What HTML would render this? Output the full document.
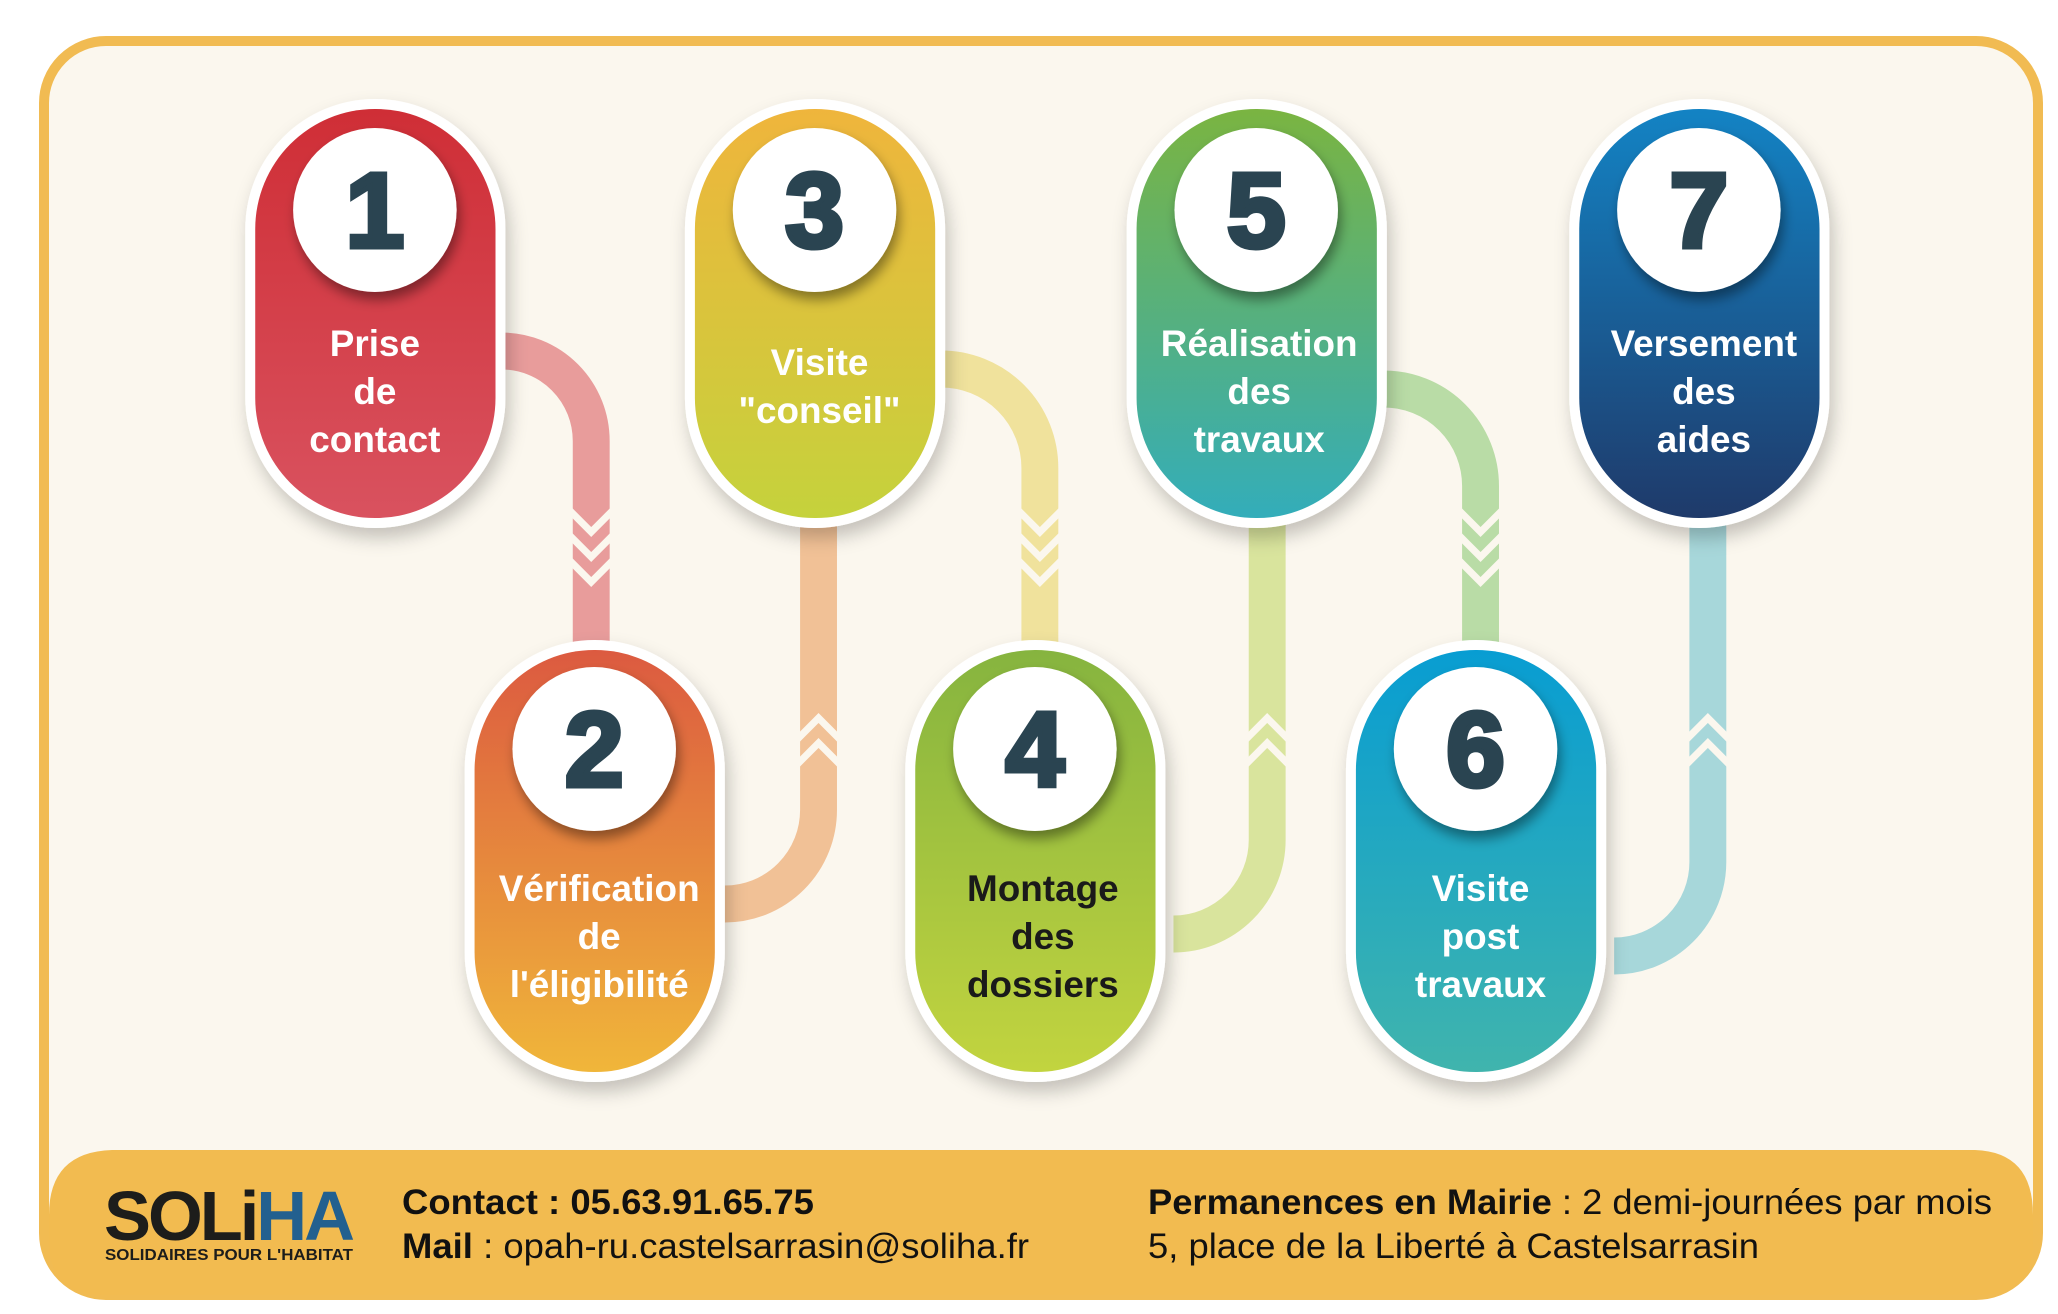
<!DOCTYPE html>
<html><head><meta charset="utf-8"><style>
html,body{margin:0;padding:0;background:#fff;}
svg{display:block;}
text{font-family:"Liberation Sans",Arial,sans-serif;}
</style></head><body>
<svg width="2058" height="1314" viewBox="0 0 2058 1314" xmlns="http://www.w3.org/2000/svg">
<defs>
<filter id="sh" x="-30%" y="-20%" width="160%" height="150%"><feDropShadow dx="4" dy="10" stdDeviation="9" flood-color="#000" flood-opacity="0.22"/></filter>
<filter id="csh" x="-30%" y="-30%" width="160%" height="160%"><feDropShadow dx="3" dy="8" stdDeviation="6" flood-color="#000" flood-opacity="0.4"/></filter>
<linearGradient id="g1" x1="0" y1="0" x2="0" y2="1"><stop offset="0" stop-color="#cf2e36"/><stop offset="1" stop-color="#d9525f"/></linearGradient>
<linearGradient id="g2" x1="0" y1="0" x2="0" y2="1"><stop offset="0" stop-color="#dc5a40"/><stop offset="1" stop-color="#f0b63a"/></linearGradient>
<linearGradient id="g3" x1="0" y1="0" x2="0" y2="1"><stop offset="0" stop-color="#efb53c"/><stop offset="1" stop-color="#c5d23c"/></linearGradient>
<linearGradient id="g4" x1="0" y1="0" x2="0" y2="1"><stop offset="0" stop-color="#86b43f"/><stop offset="1" stop-color="#c2d43f"/></linearGradient>
<linearGradient id="g5" x1="0" y1="0" x2="0" y2="1"><stop offset="0" stop-color="#7ab441"/><stop offset="1" stop-color="#33adba"/></linearGradient>
<linearGradient id="g6" x1="0" y1="0" x2="0" y2="1"><stop offset="0" stop-color="#089dd2"/><stop offset="1" stop-color="#40b4ad"/></linearGradient>
<linearGradient id="g7" x1="0" y1="0" x2="0" y2="1"><stop offset="0" stop-color="#1383c4"/><stop offset="1" stop-color="#1f3a6a"/></linearGradient>
</defs>
<rect x="0" y="0" width="2058" height="1314" fill="#fff"/>
<rect x="44" y="41" width="1994" height="1254" rx="62" fill="#fbf7ee" stroke="#f1bb52" stroke-width="10"/>
<path d="M49 1215 Q49 1152 112 1150 L1975 1150 Q2033 1152 2033 1215 L2033 1240 Q2033 1295 1978 1295 L104 1295 Q49 1295 49 1240 Z" fill="#f2bb50"/>

<g transform="translate(-2,0) scale(0.997,1)">
<!-- connectors -->
<g fill="none" stroke-width="37">
<path d="M505 351 A90 90 0 0 1 595 441 L595 650" stroke="#e89c9b"/>
<path d="M823 520 L823 810 A94 94 0 0 1 729 904" stroke="#f1c196"/>
<path d="M946 369 A99 99 0 0 1 1045 468 L1045 650" stroke="#f0e29c"/>
<path d="M1273 520 L1273 840 A94 94 0 0 1 1179 934" stroke="#d9e49d"/>
<path d="M1390 389 A97 97 0 0 1 1487 486 L1487 650" stroke="#b9dca6"/>
<path d="M1715 520 L1715 862 A94 94 0 0 1 1621 956" stroke="#a7d7da"/>
</g>
<g fill="none" stroke="#fbf7ee" stroke-width="7">
<path d="M573 510 L595 532 L617 510 M573 535 L595 557 L617 535 M573 560 L595 582 L617 560"/>
<path d="M1023 510 L1045 532 L1067 510 M1023 535 L1045 557 L1067 535 M1023 560 L1045 582 L1067 560"/>
<path d="M1465 510 L1487 532 L1509 510 M1465 535 L1487 557 L1509 535 M1465 560 L1487 582 L1509 560"/>
<path d="M801 740 L823 718 L845 740 M801 765 L823 743 L845 765"/>
<path d="M1251 740 L1273 718 L1295 740 M1251 765 L1273 743 L1295 765"/>
<path d="M1693 740 L1715 718 L1737 740 M1693 765 L1715 743 L1737 765"/>
</g>

<!-- pills -->
<g filter="url(#sh)">
<rect x="248" y="99" width="261" height="429" rx="130" fill="#fff"/>
<rect x="689" y="99" width="261" height="429" rx="130" fill="#fff"/>
<rect x="1132" y="99" width="261" height="429" rx="130" fill="#fff"/>
<rect x="1576" y="99" width="261" height="429" rx="130" fill="#fff"/>
<rect x="468" y="640" width="261" height="442" rx="130" fill="#fff"/>
<rect x="910" y="640" width="261" height="442" rx="130" fill="#fff"/>
<rect x="1352" y="640" width="261" height="442" rx="130" fill="#fff"/>
</g>
<rect x="258" y="109" width="241" height="409" rx="120" fill="url(#g1)"/>
<rect x="699" y="109" width="241" height="409" rx="120" fill="url(#g3)"/>
<rect x="1142" y="109" width="241" height="409" rx="120" fill="url(#g5)"/>
<rect x="1586" y="109" width="241" height="409" rx="120" fill="url(#g7)"/>
<rect x="478" y="650" width="241" height="422" rx="120" fill="url(#g2)"/>
<rect x="920" y="650" width="241" height="422" rx="120" fill="url(#g4)"/>
<rect x="1362" y="650" width="241" height="422" rx="120" fill="url(#g6)"/>

<!-- circles -->
<g fill="#fff" filter="url(#csh)">
<circle cx="378" cy="210" r="82"/><circle cx="819" cy="210" r="82"/><circle cx="1262" cy="210" r="82"/><circle cx="1706" cy="210" r="82"/>
<circle cx="598" cy="749" r="82"/><circle cx="1040" cy="749" r="82"/><circle cx="1482" cy="749" r="82"/>
</g>
<g font-size="106" font-weight="bold" fill="#2a4451" stroke="#2a4451" stroke-width="5" text-anchor="middle">
<text x="378" y="247">1</text><text x="819" y="247">3</text><text x="1262" y="247">5</text><text x="1706" y="247">7</text>
<text x="598" y="786">2</text><text x="1040" y="786">4</text><text x="1482" y="786">6</text>
</g>

<!-- labels -->
<g font-size="37" font-weight="bold" fill="#fff" text-anchor="middle">
<text x="378" y="356">Prise</text><text x="378" y="404">de</text><text x="378" y="452">contact</text>
<text x="824" y="375">Visite</text><text x="824" y="423">"conseil"</text>
<text x="1265" y="356">Réalisation</text><text x="1265" y="404">des</text><text x="1265" y="452">travaux</text>
<text x="1711" y="356">Versement</text><text x="1711" y="404">des</text><text x="1711" y="452">aides</text>
<text x="603" y="901">Vérification</text><text x="603" y="949">de</text><text x="603" y="997">l'éligibilité</text>
<text x="1487" y="901">Visite</text><text x="1487" y="949">post</text><text x="1487" y="997">travaux</text>
</g>
<g font-size="37" font-weight="bold" fill="#1a1a1a" text-anchor="middle">
<text x="1048" y="901">Montage</text><text x="1048" y="949">des</text><text x="1048" y="997">dossiers</text>
</g>
</g>

<!-- footer -->
<text x="104" y="1240" font-size="70" font-weight="bold" letter-spacing="-3" fill="#1d1d1b" textLength="248" lengthAdjust="spacingAndGlyphs">SOLi<tspan fill="#23608f">HA</tspan></text>
<text x="105" y="1260" font-size="16" font-weight="bold" fill="#1d1d1b" textLength="248" lengthAdjust="spacingAndGlyphs">SOLIDAIRES POUR L'HABITAT</text>
<g font-size="35" fill="#111">
<text x="402" y="1214" textLength="412" lengthAdjust="spacingAndGlyphs"><tspan font-weight="bold">Contact : 05.63.91.65.75</tspan></text>
<text x="402" y="1258" textLength="627" lengthAdjust="spacingAndGlyphs"><tspan font-weight="bold">Mail</tspan> : opah-ru.castelsarrasin@soliha.fr</text>
<text x="1148" y="1214" textLength="844" lengthAdjust="spacingAndGlyphs"><tspan font-weight="bold">Permanences en Mairie</tspan> : 2 demi-journées par mois</text>
<text x="1148" y="1258" textLength="611" lengthAdjust="spacingAndGlyphs">5, place de la Liberté à Castelsarrasin</text>
</g>
</svg>
</body></html>
